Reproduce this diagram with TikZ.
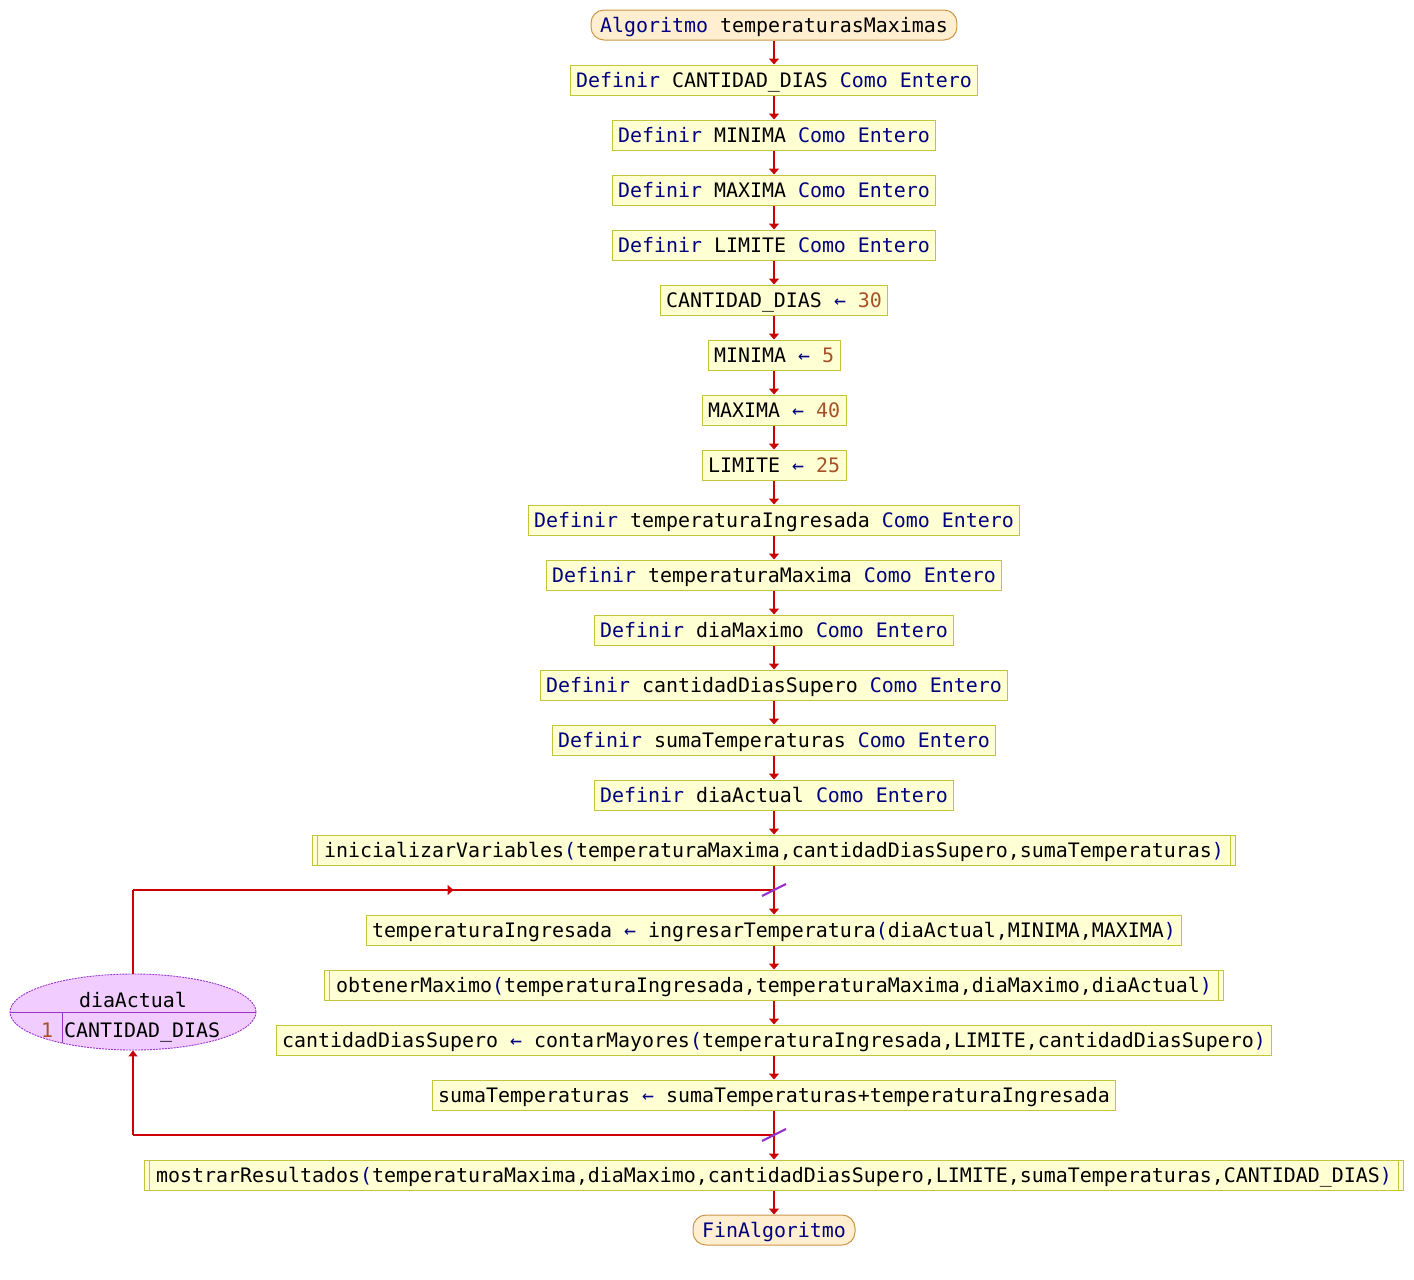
\documentclass[tikz,border=0pt]{standalone}
\usepackage{fontspec}
\usetikzlibrary{arrows.meta,shapes.geometric,decorations.markings}
\newfontfamily\pfontfam{DejaVu Sans Mono}
\newcommand\pf{\pfontfam\fontsize{19.93pt}{24pt}\selectfont}
\definecolor{kwc}{RGB}{0,0,128}
\definecolor{numc}{RGB}{165,82,40}
\definecolor{boxfill}{RGB}{255,255,212}
\definecolor{boxline}{RGB}{196,196,60}
\definecolor{termfill}{RGB}{255,238,208}
\definecolor{termline}{RGB}{205,150,70}
\definecolor{flowred}{RGB}{204,0,0}
\definecolor{loopfill}{RGB}{240,204,255}
\definecolor{loopline}{RGB}{153,51,204}
\newcommand\kw[1]{\textcolor{kwc}{#1}}
\newcommand\nm[1]{\textcolor{numc}{#1}}
\newcommand\PL{\textcolor{kwc}{(}}
\newcommand\PR{\textcolor{kwc}{)}}
\newcommand\asg{\ \textcolor{kwc}{←}\ }
\begin{document}
\begin{tikzpicture}[x=1pt,y=-1pt,
  proc/.style={draw=boxline, fill=boxfill, line width=1pt, minimum height=30pt,
    inner xsep=6pt, inner ysep=0pt, text height=15pt, text depth=0pt, font=\pf},
  subp/.style={proc, inner xsep=12pt},
  term/.style={draw=termline, fill=termfill, line width=1pt, rounded corners=13pt,
    minimum height=30pt, inner xsep=9pt, inner ysep=0pt, text height=15pt, text depth=0pt, font=\pf},
  flow/.style={draw=flowred, line width=2pt, -{Triangle[width=10pt,length=6pt]}},
  loopln/.style={draw=flowred, line width=2pt},
  slash/.style={draw=loopline, line width=2.2pt},
  lbl/.style={inner sep=0pt, text height=15pt, text depth=0pt, font=\pf},
  midarrow/.style={postaction={decorate}, decoration={markings,
    mark=at position 0.5 with {\arrow{Triangle[width=10pt,length=6pt]}}}}
]
\useasboundingbox[fill=white] (0,0) rectangle (1414,1280);

\node[term] (n0) at (774,25) {\kw{Algoritmo} temperaturasMaximas};
\node[proc] (n1) at (774,80) {\kw{Definir} CANTIDAD\_DIAS \kw{Como} \kw{Entero}};
\node[proc] (n2) at (774,135) {\kw{Definir} MINIMA \kw{Como} \kw{Entero}};
\node[proc] (n3) at (774,190) {\kw{Definir} MAXIMA \kw{Como} \kw{Entero}};
\node[proc] (n4) at (774,245) {\kw{Definir} LIMITE \kw{Como} \kw{Entero}};
\node[proc] (n5) at (774,300) {CANTIDAD\_DIAS\asg\nm{30}};
\node[proc] (n6) at (774,355) {MINIMA\asg\nm{5}};
\node[proc] (n7) at (774,410) {MAXIMA\asg\nm{40}};
\node[proc] (n8) at (774,465) {LIMITE\asg\nm{25}};
\node[proc] (n9) at (774,520) {\kw{Definir} temperaturaIngresada \kw{Como} \kw{Entero}};
\node[proc] (n10) at (774,575) {\kw{Definir} temperaturaMaxima \kw{Como} \kw{Entero}};
\node[proc] (n11) at (774,630) {\kw{Definir} diaMaximo \kw{Como} \kw{Entero}};
\node[proc] (n12) at (774,685) {\kw{Definir} cantidadDiasSupero \kw{Como} \kw{Entero}};
\node[proc] (n13) at (774,740) {\kw{Definir} sumaTemperaturas \kw{Como} \kw{Entero}};
\node[proc] (n14) at (774,795) {\kw{Definir} diaActual \kw{Como} \kw{Entero}};
\node[subp] (n15) at (774,850) {inicializarVariables\PL temperaturaMaxima,cantidadDiasSupero,sumaTemperaturas\PR};
\node[proc] (n16) at (774,930) {temperaturaIngresada\asg ingresarTemperatura\PL diaActual,MINIMA,MAXIMA\PR};
\node[subp] (n17) at (774,985) {obtenerMaximo\PL temperaturaIngresada,temperaturaMaxima,diaMaximo,diaActual\PR};
\node[proc] (n18) at (774,1040) {cantidadDiasSupero\asg contarMayores\PL temperaturaIngresada,LIMITE,cantidadDiasSupero\PR};
\node[proc] (n19) at (774,1095) {sumaTemperaturas\asg sumaTemperaturas+temperaturaIngresada};
\node[subp] (n20) at (774,1175) {mostrarResultados\PL temperaturaMaxima,diaMaximo,cantidadDiasSupero,LIMITE,sumaTemperaturas,CANTIDAD\_DIAS\PR};
\node[term] (n21) at (774,1230) {\kw{FinAlgoritmo}};

% subprocess inner bars
\foreach \s in {n15,n17,n20}{
  \draw[boxline, line width=1pt] ([xshift=6pt]\s.north west) -- ([xshift=6pt]\s.south west);
  \draw[boxline, line width=1pt] ([xshift=-6pt]\s.north east) -- ([xshift=-6pt]\s.south east);
}

% main flow
\foreach \a/\b in {n0/n1,n1/n2,n2/n3,n3/n4,n4/n5,n5/n6,n6/n7,n7/n8,n8/n9,n9/n10,n10/n11,n11/n12,n12/n13,n13/n14,n14/n15,n15/n16,n16/n17,n17/n18,n18/n19,n19/n20,n20/n21}
  \draw[flow] (\a) -- (\b);

% loop
\node[ellipse, draw=loopline, fill=loopfill, line width=0.9pt, dash pattern=on 2pt off 1pt,
  minimum width=246pt, minimum height=76pt, inner sep=0pt] (lp) at (133,1012) {};
\coordinate (lpw) at (10,1012);
\coordinate (lpe) at (256,1012);
\draw[loopline, line width=1pt] (lpw) -- (lpe);
\coordinate (dvt) at (62,1012);
\coordinate (dvb) at (62,1043);
\draw[loopline, line width=1pt] (dvt) -- (dvb);
\node[lbl] (lvar) at (133,1000) {diaActual};
\node[lbl, text=numc] (lstep) at (47,1030) {1};
\node[lbl, anchor=west] (lend) at (64,1030) {CANTIDAD\_DIAS};

\coordinate (c1) at (774,890);
\coordinate (c2) at (774,1135);
\coordinate (lt) at (133,890);
\coordinate (lb) at (133,1135);
\draw[loopln] (lp.north) -- (lt);
\draw[loopln, midarrow] (lt) -- (c1);
\draw[loopln] (c2) -- (lb);
\draw[loopln, -{Triangle[width=9pt,length=6pt]}] (lb) -- (lp.south);
\draw[slash] ([shift={(-12,6)}]c1) -- ([shift={(12,-6)}]c1);
\draw[slash] ([shift={(-12,6)}]c2) -- ([shift={(12,-6)}]c2);
\end{tikzpicture}
\end{document}
